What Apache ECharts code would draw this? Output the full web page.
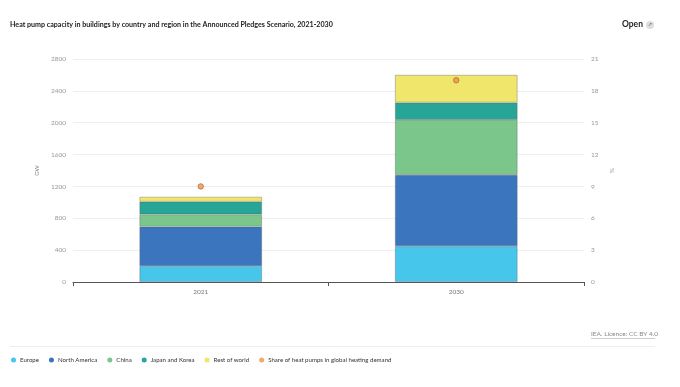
<!DOCTYPE html>
<html>
<head>
<meta charset="utf-8">
<script src="https://cdn.jsdelivr.net/npm/echarts@6/dist/echarts.min.js"></script>
<style>html,body{margin:0;padding:0;background:#fff;}#c{width:680px;height:387px;}</style>
</head>
<body>
<div id="c"></div>
<script>
const categories = ['2021', '2030'];
const europe = [200, 450];
const northAmerica = [495, 895];
const china = [155, 690];
const japanKorea = [158, 218];
const restOfWorld = [62, 348];
const shareHeating = [9.0, 19.0];
const leftTicks = [0, 2800, 400];
const rightTicks = [0, 21, 3];

const FONT = 'Lato, "Open Sans", sans-serif';
const chart = echarts.init(document.getElementById('c'));
const barBorder = {borderColor: 'rgba(90,90,90,0.45)', borderWidth: 0.8};
function bar(name, data, color) {
  return {name, type: 'bar', stack: 'a', data, barWidth: '48%',
    itemStyle: Object.assign({color}, barBorder), emphasis: {disabled: true}};
}
chart.setOption({
  animation: false,
  textStyle: {fontFamily: FONT},
  grid: {left: 73, right: 96, top: 59, bottom: 105, containLabel: false},
  legend: {
    left: 6, top: 352, itemWidth: 5, itemHeight: 5, itemGap: 10, icon: 'circle',
    itemStyle: {borderWidth: 0},
    textStyle: {fontSize: 6.1, color: '#333', fontFamily: FONT, padding: [0, 0, 0, -1]},
    data: ['Europe', 'North America', 'China', 'Japan and Korea', 'Rest of world', 'Share of heat pumps in global heating demand']
  },
  xAxis: {
    type: 'category', data: categories,
    axisLine: {lineStyle: {color: '#555', width: 1}},
    axisTick: {show: true, length: 4, lineStyle: {color: '#555'}},
    axisLabel: {fontSize: 6.5, color: '#777', margin: 6}
  },
  yAxis: [
    {type: 'value', min: leftTicks[0], max: leftTicks[1], interval: leftTicks[2],
     name: 'GW', nameLocation: 'middle', nameRotate: 90, nameGap: 25,
     nameTextStyle: {fontSize: 6, color: '#888'},
     axisLine: {show: false}, axisTick: {show: false},
     axisLabel: {fontSize: 6.5, color: '#999', margin: 7, formatter: v => String(v)},
     splitLine: {lineStyle: {color: '#eeeeee', width: 1}}},
    {type: 'value', min: rightTicks[0], max: rightTicks[1], interval: rightTicks[2],
     name: '%', nameLocation: 'middle', nameRotate: 90, nameGap: 18,
     nameTextStyle: {fontSize: 6, color: '#888'},
     axisLine: {show: false}, axisTick: {show: false},
     axisLabel: {fontSize: 6.5, color: '#999', margin: 7, formatter: v => String(v)},
     splitLine: {show: false}}
  ],
  series: [
    bar('Europe', europe, '#47c6eb'),
    bar('North America', northAmerica, '#3a75bd'),
    bar('China', china, '#7bc68b'),
    bar('Japan and Korea', japanKorea, '#27a697'),
    bar('Rest of world', restOfWorld, '#f0e66b'),
    {name: 'Share of heat pumps in global heating demand', type: 'scatter', yAxisIndex: 1,
     data: shareHeating, symbol: 'circle', symbolSize: 5.5,
     itemStyle: {color: '#f0963c', borderColor: '#9a5b3a', borderWidth: 0.8}, z: 5}
  ],
  graphic: [
    {type: 'text', left: 10, top: 21, style: {text: 'Heat pump capacity in buildings by country and region in the Announced Pledges Scenario, 2021-2030', fontSize: 7.1, fontWeight: 'bold', fill: '#222', fontFamily: FONT}},
    {type: 'text', left: 622, top: 20, style: {text: 'Open', fontSize: 8.5, fontWeight: 'bold', fill: '#222', fontFamily: FONT}},
    {type: 'circle', shape: {cx: 650, cy: 25, r: 4}, style: {fill: '#ddd'}},
    {type: 'text', x: 650, y: 25, style: {text: '↗', fontSize: 5, fill: '#666', align: 'center', verticalAlign: 'middle'}},
    {type: 'text', left: 591, top: 330, style: {text: 'IEA. Licence: CC BY 4.0', fontSize: 6.5, fill: '#888', fontFamily: FONT}},
    {type: 'line', shape: {x1: 591, y1: 338.5, x2: 655, y2: 338.5}, style: {stroke: '#aaa', lineWidth: 0.6}},
    {type: 'line', shape: {x1: 10, y1: 346.5, x2: 655, y2: 346.5}, style: {stroke: '#eee', lineWidth: 1}}
  ]
});
</script>
</body>
</html>
